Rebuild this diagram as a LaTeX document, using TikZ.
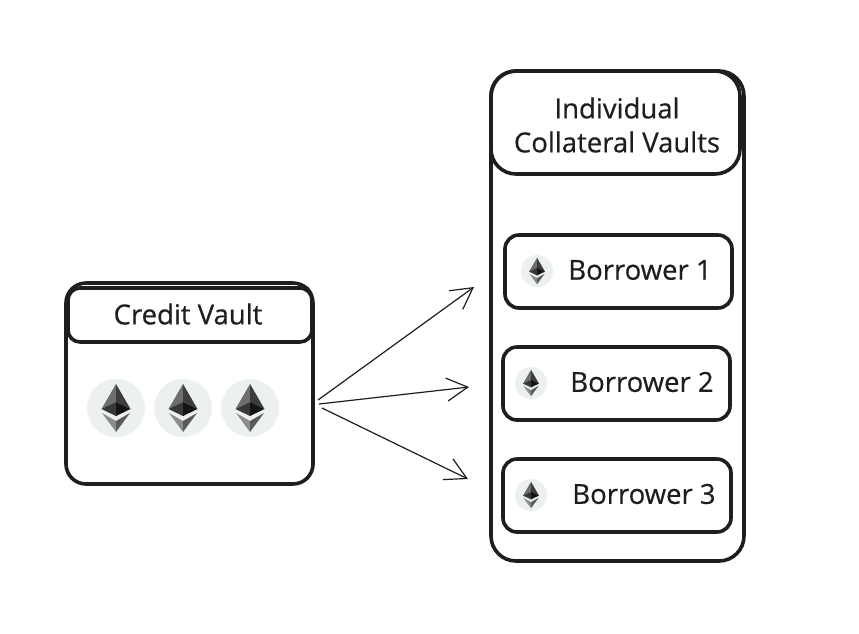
\documentclass[tikz,border=0pt]{standalone}
\usepackage{fontspec}
\setmainfont[FakeBold=0.5]{Open Sans}
\usetikzlibrary{arrows.meta}
\definecolor{ink}{HTML}{1E1E1E}
\definecolor{discc}{HTML}{ECF0F1}
\definecolor{ca}{HTML}{6E6E6E}
\definecolor{cb}{HTML}{3C3C3C}
\definecolor{cc}{HTML}{383838}
\definecolor{cd}{HTML}{141414}
\definecolor{ce}{HTML}{8C8C8C}
\definecolor{cf}{HTML}{5A5A5A}
\tikzset{
  every node/.style={inner sep=0pt,outer sep=0pt,text=ink},
  box/.style={draw=ink,line width=3.6pt,rounded corners=#1,anchor=north west,align=center},
  box/.default=14pt,
  sketch/.style={draw=ink,line width=1.8pt,rounded corners=#1},
  label/.style={font=\fontsize{27.5}{34}\selectfont,align=center},
  flow/.style={draw=ink,line width=1.2pt,-{Straight Barb[length=21pt,width=23pt,line width=1.2pt]}},
  pics/eth/.style={code={
    \fill[discc] (0,0) circle (29);
    \fill[ca] (0,-24) -- (-14.5,1) -- (0,-6) -- cycle;
    \fill[cb] (0,-24) -- (14.5,1) -- (0,-6) -- cycle;
    \fill[cc] (0,-6) -- (-14.5,1) -- (0,8) -- cycle;
    \fill[cd] (0,-6) -- (14.5,1) -- (0,8) -- cycle;
    \fill[ce] (-14,5) -- (0,13) -- (0,24) -- cycle;
    \fill[cf] (14,5) -- (0,13) -- (0,24) -- cycle;
  }}
}
\begin{document}
\begin{tikzpicture}[x=1pt,y=-1pt]
\useasboundingbox (0,0) rectangle (859,633);
\fill[white] (0,0) rectangle (859,633);
% Credit Vault
\node[box=20pt,minimum width=247pt,minimum height=201pt] (cv) at (66,283) {};
\node[box=12pt,minimum width=244pt,minimum height=54pt] (cvh) at (68,288) {};
\node[label] (cvt) at (188,314) {Credit Vault};
\draw[sketch=14pt] (68,312) |- (312,284) -- (313,312);
\draw[sketch=20pt] (66,330) -- (66.5,460);
\draw[sketch=20pt] (313,330) -- (312.5,460);
\pic at (116,408) {eth};
\pic at (183,408) {eth};
\pic at (250,408) {eth};
% Individual Collateral Vaults
\node[box=25pt,minimum width=253pt,minimum height=490pt] (iv) at (491,71) {};
\node[box=25pt,minimum width=249pt,minimum height=103pt] (ivh) at (491,71) {};
\node[label] (ivt) at (617,125) {Individual\\Collateral Vaults};
% Borrowers
\node[box,minimum width=227pt,minimum height=73pt] (b1) at (505,235) {};
\node[box,minimum width=227pt,minimum height=73pt] (b2) at (503,347) {};
\node[box,minimum width=228pt,minimum height=73pt] (b3) at (503,459) {};
\node[label] (b1t) at (640,270) {Borrower 1};
\node[label] (b2t) at (642,382) {Borrower 2};
\node[label] (b3t) at (644,494) {Borrower 3};
\pic[scale=0.55] at (537,271) {eth};
\pic[scale=0.55] at (531,383) {eth};
\pic[scale=0.55] at (531,495) {eth};
% Connectors
\coordinate (s1) at (318,400);
\coordinate (s2) at (319,404);
\coordinate (s3) at (322,408);
\coordinate (e1) at (474,287);
\coordinate (e2) at (469,387);
\coordinate (e3) at (468,479);
\draw[flow] (s1) -- (e1);
\draw[flow] (s2) -- (e2);
\draw[flow] (s3) -- (e3);
\end{tikzpicture}
\end{document}
